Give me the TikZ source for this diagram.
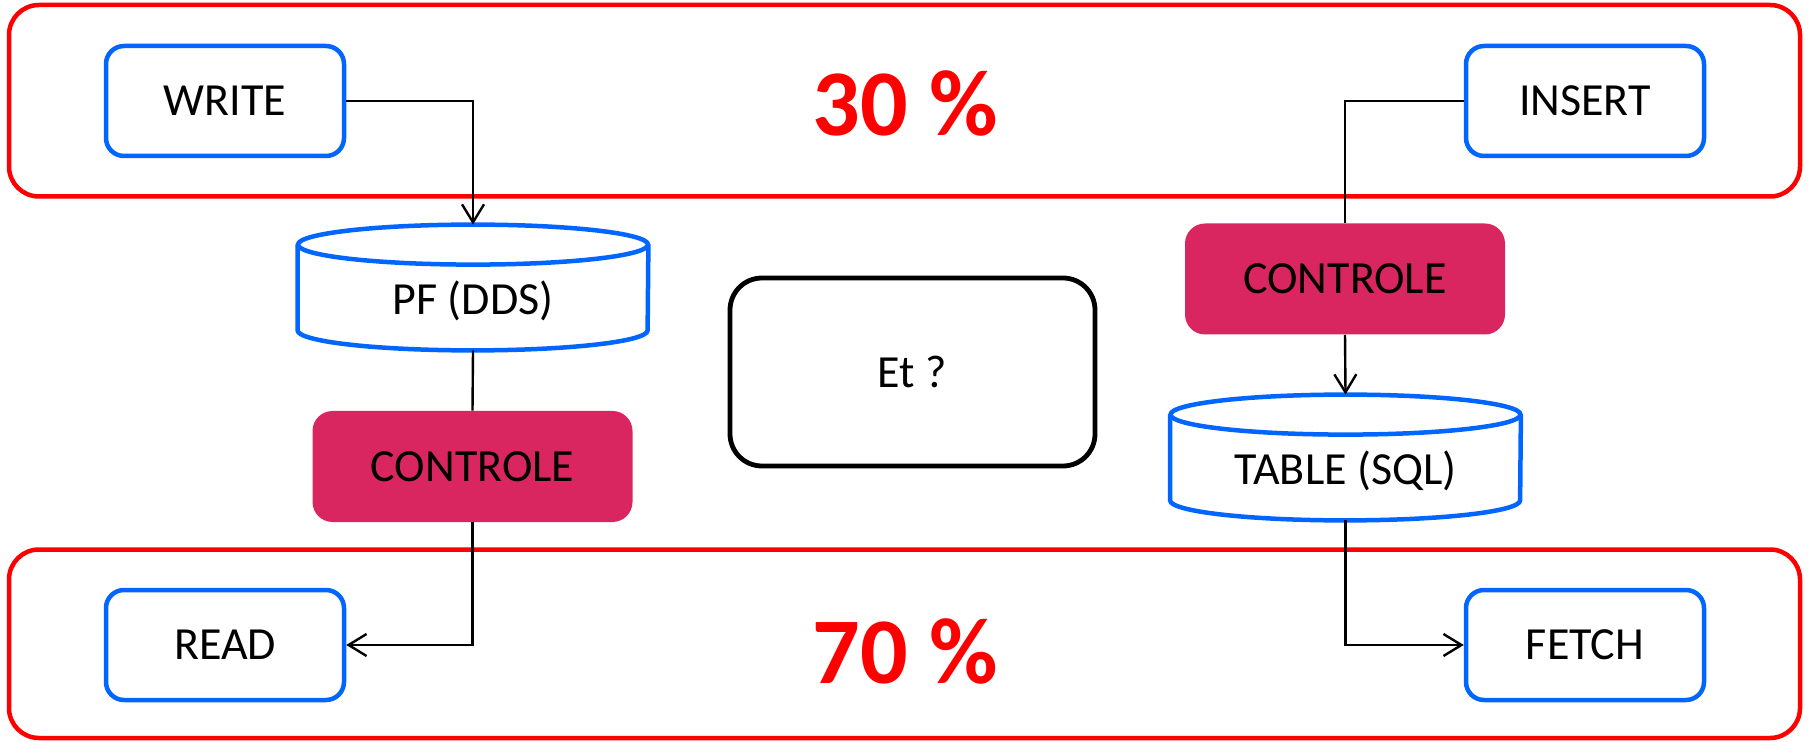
\documentclass[tikz,border=0pt]{standalone}
\usepackage{fontspec}
\setmainfont{Carlito}
\usetikzlibrary{arrows.meta}
\definecolor{boxblue}{RGB}{0,102,255}
\definecolor{zonered}{RGB}{255,0,0}
\definecolor{ctlred}{RGB}{217,38,97}
\begin{document}
\begin{tikzpicture}[x=0.5pt,y=-0.5pt,
  lblfont/.style={font=\fontsize{23}{27}\selectfont},
  zone/.style={draw=zonered, line width=2.25pt, rounded corners=15pt},
  opbox/.style={draw=boxblue, line width=2.25pt, rounded corners=9pt,
    minimum width=119pt, minimum height=55pt, inner sep=0pt, lblfont},
  ctlbox/.style={fill=ctlred, rounded corners=10pt,
    minimum width=160pt, minimum height=55.5pt, inner sep=0pt, lblfont},
  qbox/.style={draw=black, line width=2.4pt, rounded corners=16pt,
    minimum width=182.5pt, minimum height=94pt, inner sep=0pt, lblfont},
  dbbody/.style={minimum width=175pt, minimum height=62.5pt, inner sep=0pt},
  dbline/.style={draw=boxblue, line width=2.25pt},
  lbl/.style={inner sep=0pt, lblfont},
  conn/.style={draw=black, line width=1.2pt},
  arr/.style={-{Straight Barb[length=9pt,width=11pt]}},
  pct/.style={text=zonered, inner sep=0pt, font=\fontsize{47}{56}\selectfont\bfseries}]
\useasboundingbox (0,0) rectangle (1808,742);

% the two share zones
\draw[zone] (9,5) rectangle (1800,196.5);
\draw[zone] (9,549.5) rectangle (1800,738);
\node[pct, anchor=base] (p30) at (905,136) {30 \%};
\node[pct, anchor=base] (p70) at (905,683) {70 \%};

% operations
\node[opbox] (write)  at (225,101) {WRITE};
\node[opbox] (insert) at (1585,101) {INSERT};
\node[opbox] (read)   at (225,645) {READ};
\node[opbox] (fetch)  at (1585,645) {FETCH};

% controls
\node[ctlbox] (ctlA) at (472.5,466.5) {CONTROLE};
\node[ctlbox] (ctlB) at (1345,279) {CONTROLE};

% question
\node[qbox] (et) at (912.5,372) {Et ?};

% storage cylinders
\node[dbbody] (pf)  at (473,287.5) {};
\node[dbbody] (tbl) at (1345.5,457.5) {};
\foreach \c in {pf,tbl}{
  \draw[dbline] ([yshift=-10pt]\c.north west) -- ([yshift=10pt]\c.south west)
    arc[start angle=180, end angle=360, x radius=87.5pt, y radius=10pt]
    -- ([yshift=-10pt]\c.north east);
  \draw[dbline] ([yshift=-10pt]\c.north) ellipse[x radius=87.5pt, y radius=10pt];
}
\node[lbl, anchor=base] (pftext)  at (473,315) {PF (DDS)};
\node[lbl, anchor=base] (tbltext) at (1345.5,485) {TABLE (SQL)};

% flows
\draw[conn, arr] (write.east) -| (pf.north);
\draw[conn] (pf.south) -- (ctlA.north);
\draw[conn, arr] (ctlA.south) |- (read.east);
\draw[conn] (insert.west) -| (ctlB.north);
\draw[conn, arr] (ctlB.south) -- (tbl.north);
\draw[conn, arr] (tbl.south) |- (fetch.west);
\end{tikzpicture}
\end{document}
